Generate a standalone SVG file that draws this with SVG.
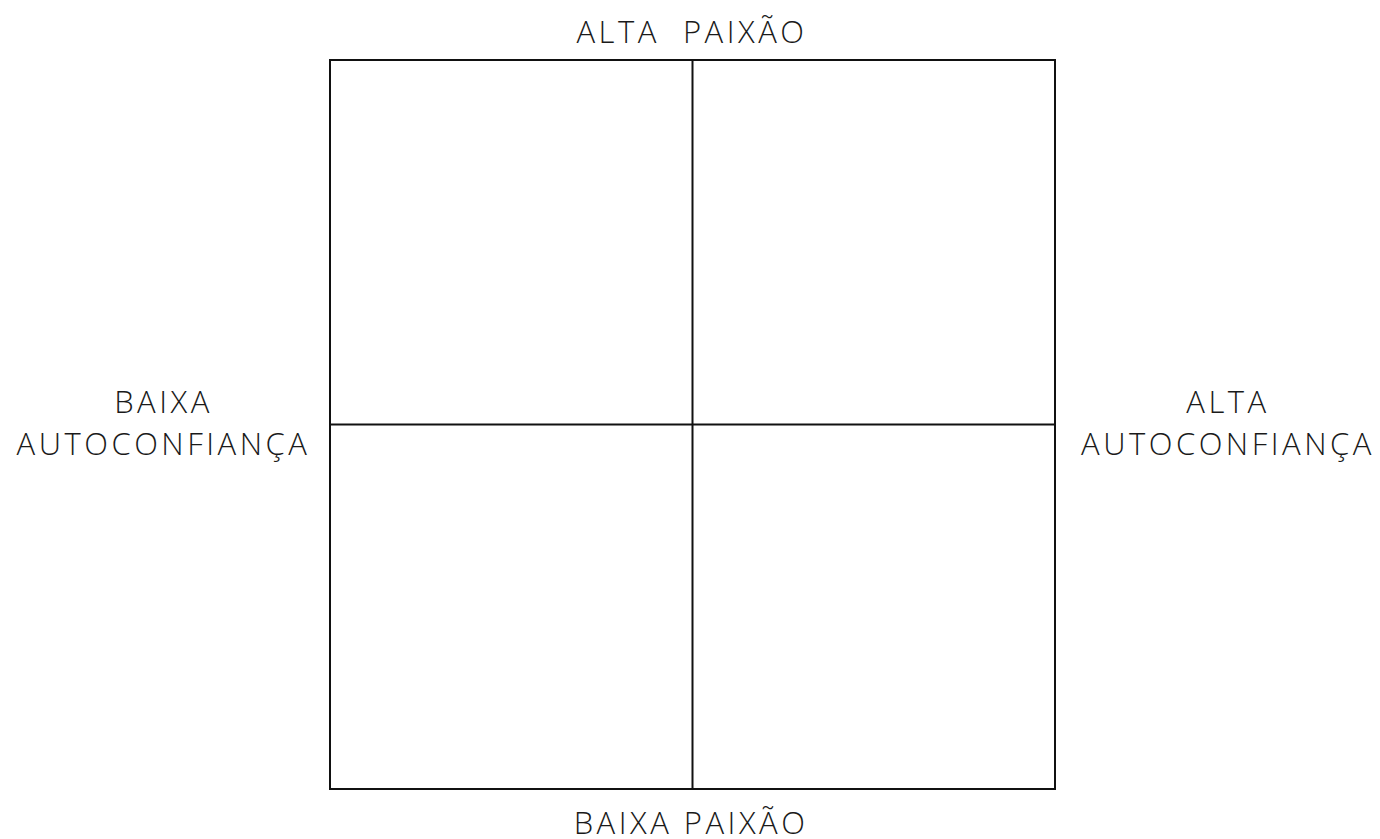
<svg xmlns="http://www.w3.org/2000/svg" width="1380" height="839" viewBox="0 0 1380 839">
<style>
.lbl{font-family:"Open Sans","Liberation Sans",sans-serif;font-weight:300;font-size:31px;letter-spacing:3.5px;fill:#1a1a1a;text-anchor:middle;white-space:pre}
.ln{stroke:#111;stroke-width:2;fill:none}
</style>
<rect width="1380" height="839" fill="#fff"/>
<g id="grid">
<rect id="square" class="ln" x="330" y="60" width="725" height="729"/>
</g>
<g id="connectors">
<line class="ln" x1="692.5" y1="60" x2="692.5" y2="789"/>
<line class="ln" x1="330" y1="424.5" x2="1055" y2="424.5"/>
</g>
<g id="top"><text class="lbl" x="692" y="43" xml:space="preserve">ALTA  PAIXÃO</text></g>
<g id="left"><text class="lbl" x="163.5" y="413">BAIXA</text><text class="lbl" x="163.5" y="455">AUTOCONFIANÇA</text></g>
<g id="right"><text class="lbl" x="1228" y="413">ALTA</text><text class="lbl" x="1228" y="455">AUTOCONFIANÇA</text></g>
<g id="bottom"><text class="lbl" x="691" y="834">BAIXA PAIXÃO</text></g>
</svg>
